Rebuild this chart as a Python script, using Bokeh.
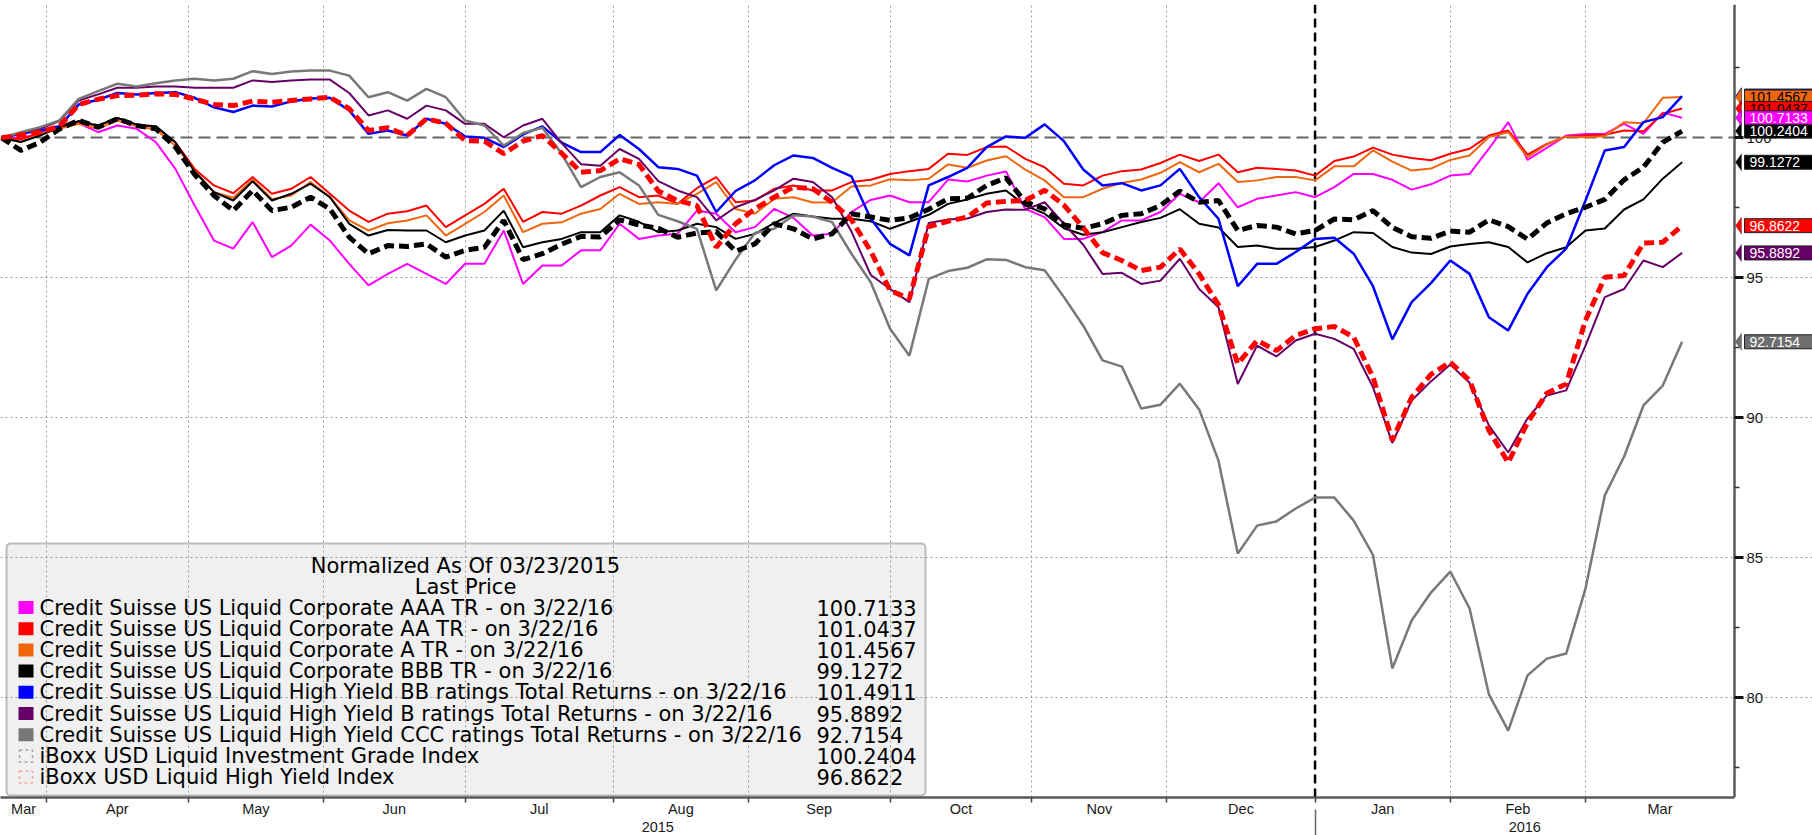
import numpy as np
import pandas as pd
from bokeh.plotting import figure
from bokeh.models import (Range1d, LinearAxis, FixedTicker, Span, Label, Grid,
                          BoxAnnotation, PolyAnnotation)
from bokeh.embed import file_html
from bokeh.resources import INLINE

# ---------------- data ----------------
START = "2015-03-23"          # normalisation date (=100)
END = "2016-03-22"            # last price date
STEP = 3                      # one reading every 3rd trading day

series_names = [
    "Credit Suisse US Liquid Corporate AAA TR -  on 3/22/16",
    "Credit Suisse US Liquid Corporate AA TR -  on 3/22/16",
    "Credit Suisse US Liquid Corporate A TR -  on 3/22/16",
    "Credit Suisse US Liquid Corporate BBB TR -  on 3/22/16",
    "Credit Suisse US Liquid High Yield BB ratings Total Returns -  on 3/22/16",
    "Credit Suisse US Liquid High Yield B ratings Total Returns -  on 3/22/16",
    "Credit Suisse US Liquid High Yield CCC ratings Total Returns -  on 3/22/16",
    "iBoxx USD Liquid Investment Grade Index",
    "iBoxx USD Liquid High Yield Index",
]

cs_aaa = [100.0, 100.0, 100.14, 100.38, 100.52, 100.2, 100.44, 100.32, 99.84, 98.89,
          97.58, 96.33, 96.04, 96.99, 95.74, 96.15, 96.9, 96.33, 95.5, 94.73,
          95.14, 95.5, 95.14, 94.78, 95.5, 95.5, 96.69, 94.78, 95.44, 95.44,
          95.98, 95.98, 96.93, 96.39, 96.51, 96.57, 97.4, 97.29, 96.63, 96.81,
          97.46, 97.14, 96.51, 96.57, 97.35, 97.78, 97.94, 97.7, 97.7, 98.51,
          98.44, 98.65, 98.8, 97.46, 97.17, 96.39, 96.39, 96.63, 97.05, 97.05,
          97.35, 98.0, 97.7, 98.38, 97.52, 97.82, 97.94, 98.06, 97.88, 98.24,
          98.71, 98.71, 98.5, 98.15, 98.34, 98.65, 98.71, 99.61, 100.56, 99.21,
          99.64, 100.08, 100.14, 100.14, 100.5, 100.14, 100.9, 100.7133]
cs_aa = [100.0, 99.95, 100.17, 100.41, 100.56, 100.41, 100.71, 100.47, 100.38, 99.84,
         98.89, 98.30, 98.02, 98.6, 98.0, 98.18, 98.6, 98.0, 97.4, 97.0,
         97.29, 97.38, 97.58, 96.81, 97.23, 97.64, 98.18, 97.0, 97.35, 97.29,
         97.58, 97.94, 98.24, 97.88, 97.94, 97.64, 98.2, 98.6, 97.7, 97.76,
         98.18, 98.3, 98.12, 98.12, 98.42, 98.5, 98.71, 98.81, 98.89, 99.43,
         99.39, 99.67, 99.69, 99.25, 98.95, 98.36, 98.3, 98.65, 98.81, 98.87,
         99.1, 99.4, 99.17, 99.4, 98.77, 98.93, 98.89, 98.83, 98.65, 99.17,
         99.33, 99.65, 99.4, 99.28, 99.2, 99.43, 99.61, 100.08, 100.26, 99.4,
         99.78, 100.05, 100.08, 100.11, 100.26, 100.23, 100.86, 101.0437]
cs_a = [100.0, 99.85, 100.14, 100.32, 100.5, 100.32, 100.62, 100.41, 100.29, 99.72,
        98.83, 98.06, 97.86, 98.5, 97.81, 97.94, 98.42, 97.88, 97.05, 96.69,
        96.95, 97.05, 97.23, 96.51, 96.93, 97.35, 97.94, 96.63, 96.93, 96.98,
        97.29, 97.46, 98.0, 97.64, 97.7, 97.64, 98.0, 98.42, 97.46, 97.29,
        97.82, 97.88, 97.69, 97.7, 98.26, 98.3, 98.52, 98.48, 98.54, 99.05,
        98.93, 99.19, 99.34, 98.86, 98.48, 97.88, 97.88, 98.18, 98.39, 98.51,
        98.75, 99.13, 98.77, 99.07, 98.42, 98.48, 98.6, 98.6, 98.48, 98.98,
        98.98, 99.55, 99.15, 98.83, 98.9, 99.21, 99.37, 100.03, 100.2, 99.31,
        99.76, 100.05, 100.02, 100.06, 100.56, 100.52, 101.43, 101.4567]
cs_bbb = [100.0, 99.85, 100.08, 100.38, 100.6, 100.44, 100.71, 100.47, 100.41, 99.84,
          98.79, 98.06, 97.76, 98.45, 97.76, 98.0, 98.36, 97.88, 96.93, 96.51,
          96.71, 96.69, 96.69, 96.27, 96.51, 96.69, 97.4, 96.09, 96.27, 96.39,
          96.63, 96.63, 97.23, 97.0, 96.63, 96.69, 96.93, 96.81, 96.39, 96.57,
          96.95, 97.29, 97.19, 97.11, 97.11, 97.02, 96.75, 97.0, 97.25, 97.64,
          97.8, 98.0, 98.12, 97.58, 97.29, 96.77, 96.54, 96.63, 96.81, 96.99,
          97.14, 97.45, 96.93, 96.8, 96.1, 96.15, 96.04, 96.04, 96.1, 96.33,
          96.63, 96.6, 96.1, 95.9, 95.85, 96.12, 96.21, 96.27, 96.1, 95.55,
          95.88, 96.09, 96.69, 96.76, 97.44, 97.8, 98.54, 99.1272]
cs_hy_bb = [100.0, 100.14, 100.26, 100.41, 101.19, 101.36, 101.6, 101.55, 101.6, 101.63,
            101.43, 101.09, 100.92, 101.15, 101.12, 101.3, 101.4, 101.43, 100.98, 100.14,
            100.26, 100.08, 100.68, 100.5, 100.05, 100.0, 99.67, 100.12, 100.41, 99.83,
            99.49, 99.49, 100.1, 99.6, 98.95, 98.89, 98.65, 97.35, 98.1, 98.48,
            99.02, 99.37, 99.28, 98.93, 98.62, 97.11, 96.21, 95.8, 98.3, 98.6,
            98.93, 99.67, 100.05, 100.0, 100.48, 99.88, 98.87, 98.3, 98.38, 98.12,
            98.3, 98.89, 97.88, 97.11, 94.7, 95.5, 95.5, 95.92, 96.39, 96.43,
            95.86, 94.7, 92.8, 94.13, 94.81, 95.62, 95.14, 93.59, 93.12, 94.43,
            95.38, 96.04, 97.76, 99.55, 99.67, 100.56, 100.74, 101.4911]
cs_hy_b = [100.0, 100.17, 100.32, 100.6, 101.33, 101.55, 101.79, 101.79, 101.83, 101.83,
           101.79, 101.79, 101.79, 102.05, 101.99, 102.05, 102.08, 102.08, 101.6, 100.8,
           100.98, 100.68, 101.15, 100.98, 100.5, 100.5, 100.02, 100.44, 100.68, 99.81,
           99.06, 99.0, 99.6, 99.25, 98.45, 98.12, 97.88, 97.05, 97.52, 97.78,
           98.12, 98.54, 98.42, 97.88, 96.65, 95.1, 94.6, 94.13, 96.96, 97.08,
           97.12, 97.35, 97.44, 97.43, 97.7, 96.93, 96.18, 95.14, 95.18, 94.78,
           94.9, 95.68, 94.6, 93.95, 91.21, 92.58, 92.19, 92.76, 93.0, 92.82,
           92.46, 91.09, 89.1, 90.62, 91.3, 91.9, 91.25, 89.73, 88.76, 89.98,
           90.8, 90.98, 92.58, 94.31, 94.6, 95.62, 95.38, 95.8892]
cs_hy_ccc = [100.0, 100.2, 100.38, 100.62, 101.39, 101.67, 101.93, 101.83, 101.95, 102.05,
             102.11, 102.05, 102.11, 102.38, 102.28, 102.37, 102.4, 102.4, 102.22, 101.45,
             101.63, 101.33, 101.75, 101.45, 100.62, 100.44, 99.72, 100.17, 100.36, 99.43,
             98.24, 98.6, 98.77, 98.3, 97.25, 97.02, 96.75, 94.55, 95.65, 96.6,
             96.75, 97.23, 97.19, 96.99, 95.86, 94.84, 93.18, 92.22, 94.96, 95.24,
             95.36, 95.66, 95.64, 95.38, 95.27, 94.31, 93.29, 92.05, 91.83, 90.33,
             90.47, 91.22, 90.3, 88.47, 85.15, 86.15, 86.3, 86.76, 87.15, 87.15,
             86.33, 85.1, 81.05, 82.76, 83.76, 84.51, 83.19, 80.12, 78.83, 80.8,
             81.4, 81.58, 83.9, 87.23, 88.62, 90.44, 91.15, 92.7154]
iboxx_ig = [100.0, 99.55, 99.84, 100.32, 100.62, 100.38, 100.68, 100.44, 100.32, 99.67,
            98.69, 97.94, 97.40, 98.12, 97.4, 97.52, 97.88, 97.46, 96.45, 95.86,
            96.15, 96.12, 96.21, 95.74, 95.98, 96.09, 97.05, 95.65, 95.86, 96.2,
            96.48, 96.46, 97.07, 96.89, 96.77, 96.45, 96.6, 96.65, 95.95, 96.21,
            96.93, 96.75, 96.39, 96.57, 97.29, 97.17, 97.05, 97.14, 97.45, 97.82,
            97.84, 98.3, 98.57, 97.7, 97.46, 96.89, 96.77, 96.93, 97.23, 97.29,
            97.58, 98.1, 97.7, 97.76, 96.69, 96.87, 96.81, 96.57, 96.69, 97.1,
            97.07, 97.4, 96.8, 96.47, 96.41, 96.67, 96.63, 97.07, 96.83, 96.38,
            96.96, 97.29, 97.52, 97.8, 98.5, 98.95, 99.84, 100.2404]
iboxx_hy = [100.0, 100.1, 100.2, 100.41, 101.19, 101.38, 101.51, 101.52, 101.57, 101.55,
            101.38, 101.19, 101.15, 101.31, 101.27, 101.33, 101.39, 101.45, 101.04, 100.26,
            100.36, 100.08, 100.68, 100.52, 99.9, 99.88, 99.43, 99.88, 100.08, 99.45,
            98.77, 98.83, 99.25, 99.05, 98.1, 97.76, 97.58, 96.09, 96.93, 97.46,
            97.88, 98.24, 98.18, 97.7, 97.07, 95.95, 94.55, 94.25, 96.83, 97.02,
            97.17, 97.67, 97.73, 97.76, 98.13, 97.6, 96.79, 95.9, 95.62, 95.26,
            95.38, 96.03, 95.14, 94.04, 91.93, 92.76, 92.4, 92.94, 93.18, 93.26,
            92.88, 91.45, 89.2, 90.73, 91.55, 91.99, 91.33, 89.55, 88.4, 89.83,
            90.88, 91.21, 93.48, 95.02, 95.08, 96.24, 96.27, 96.8622]

month_labels = ["Mar", "Apr", "May", "Jun", "Jul", "Aug", "Sep", "Oct", "Nov",
                "Dec", "Jan", "Feb", "Mar"]
year_labels = ["2015", "2016"]
y_major = [80, 85, 90, 95, 100]
y_minor = [77.5, 82.5, 87.5, 92.5, 97.5, 102.5]
y_grid = [80, 85, 90, 95]
base_level = [100]
legend_title = ["Normalized As Of 03/23/2015", "Last Price"]

# ---------------- styles / geometry ----------------
all_series = [cs_aaa, cs_aa, cs_a, cs_bbb, cs_hy_bb, cs_hy_b, cs_hy_ccc, iboxx_ig, iboxx_hy]
line_colors = ["#FF00FF", "#FF0000", "#F0660F", "#000000", "#0000FF", "#660066",
               "#787878", "#000000", "#FF0000"]
line_widths = [2, 2, 2, 2, 2.5, 2, 2.5, 5, 5]
line_dashes = ["solid"] * 7 + ["10 5", "10 5"]
tag_colors = ["#FF00FF", "#FF0000", "#F0660F", "#000000", "#0000FF", "#660066",
              "#6E6E6E", "#000000", "#FF0000"]
tag_text_colors = ["white", "black", "black", "white", "white", "white", "white",
                   "white", "white"]

W, H = 1812, 835
TOP, BOTTOM = 4, 38            # frame top / bottom border (px)
AXIS_PX = 1734                 # where the value axis sits inside the frame
PX_PER_DAY = 6.439
X0 = -1.0 / PX_PER_DAY
X1 = X0 + W / PX_PER_DAY
X_AXIS = X0 + AXIS_PX / PX_PER_DAY
PX_PER_UNIT = 28.0
Y1 = 104.904 - TOP / PX_PER_UNIT
Y0 = 104.904 - (H - BOTTOM) / PX_PER_UNIT

# ---------------- x positions (trading-day index) ----------------
start = np.datetime64(START)
dates = pd.bdate_range(START, END)[::STEP]
x = np.busday_count(start, dates.values.astype("datetime64[D]")).astype(float)

mstarts = pd.date_range("2015-04-01", "2016-03-01", freq="MS")
bounds = np.busday_count(start, mstarts.values.astype("datetime64[D]")).astype(float)
year_break = float(np.busday_count(start, np.datetime64("2016-01-01")))
edges = [X0] + list(bounds) + [X_AXIS]
month_centers = [round((a + b) / 2, 3) for a, b in zip(edges[:-1], edges[1:])]
year_centers = [round((X0 + year_break) / 2, 3), round((year_break + X_AXIS) / 2, 3)]

p = figure(width=W, height=H, x_range=Range1d(X0, X1), y_range=Range1d(Y0, Y1),
           output_backend="svg", toolbar_location=None,
           x_axis_location="below", y_axis_location=None,
           min_border_left=0, min_border_top=TOP,
           min_border_right=0, min_border_bottom=BOTTOM)
p.outline_line_color = None
p.background_fill_color = "white"
p.border_fill_color = "white"

AX_FONT = "Liberation Sans"
AX_SIZE = "14.5px"

xa = p.xaxis[0]
xa.ticker = FixedTicker(ticks=month_centers, minor_ticks=list(bounds))
xa.major_label_overrides = {c: t for c, t in zip(month_centers, month_labels)}
xa.bounds = (X0, X_AXIS)
xa.major_tick_out = 0
xa.major_tick_in = 0
xa.minor_tick_out = 5
xa.minor_tick_in = 0
xa.minor_tick_line_color = "#444444"
xa.minor_tick_line_width = 1.5
xa.axis_line_color = "#5a5a5a"
xa.axis_line_width = 2.5
xa.major_label_text_font = AX_FONT
xa.major_label_text_font_size = AX_SIZE
xa.major_label_text_color = "#1a1a1a"
xa.major_label_standoff = -2

yr = LinearAxis(ticker=FixedTicker(ticks=year_centers, minor_ticks=[year_break]))
yr.major_label_overrides = {c: t for c, t in zip(year_centers, year_labels)}
yr.axis_line_color = None
yr.major_tick_line_color = None
yr.minor_tick_out = 16
yr.minor_tick_in = 10
yr.minor_tick_line_color = "#666666"
yr.minor_tick_line_width = 1.5
yr.major_label_standoff = -14
yr.major_label_text_font = AX_FONT
yr.major_label_text_font_size = AX_SIZE
yr.major_label_text_color = "#1a1a1a"
p.add_layout(yr, "below")

# value axis drawn at a fixed place inside the frame, labels to its right
ya = LinearAxis(ticker=FixedTicker(ticks=y_major, minor_ticks=y_minor),
                fixed_location=X_AXIS)
ya.major_tick_out = 9
ya.major_tick_in = 0
ya.major_tick_line_width = 3
ya.major_tick_line_color = "#111111"
ya.minor_tick_out = 5
ya.minor_tick_in = 0
ya.minor_tick_line_width = 1.5
ya.minor_tick_line_color = "#333333"
ya.axis_line_color = "#5a5a5a"
ya.axis_line_width = 2.5
ya.major_label_text_font = AX_FONT
ya.major_label_text_font_size = "15px"
ya.major_label_text_color = "#1a1a1a"
ya.major_label_standoff = 3
p.add_layout(ya, "right")

p.xgrid.ticker = FixedTicker(ticks=[b for b in bounds if b != year_break])
p.ygrid.ticker = FixedTicker(ticks=y_grid)
p.ygrid.bounds = (X0, X_AXIS)
for g in (p.xgrid, p.ygrid):
    g.grid_line_color = "#9a9a9a"
    g.grid_line_dash = "2 3"
    g.grid_line_width = 1

p.add_layout(Grid(dimension=1, ticker=FixedTicker(ticks=base_level),
                  bounds=(X0, X_AXIS), grid_line_color="#666666",
                  grid_line_dash="12 6", grid_line_width=2))
p.add_layout(Span(location=year_break, dimension="height", line_color="#000000",
                  line_dash="9 5", line_width=2.5, level="underlay"))

for vals, col, lw, dash in zip(all_series, line_colors, line_widths, line_dashes):
    p.line(x, vals, line_color=col, line_width=lw, line_dash=dash)

# ---------------- legend (screen units inside the frame) ----------------
LEG_FONT = "DejaVu Sans"
LEG_SIZE = "21px"
p.add_layout(BoxAnnotation(left=6, right=925, bottom=2, top=254,
                           left_units="screen", right_units="screen",
                           bottom_units="screen", top_units="screen",
                           fill_color="#F0F0F0", fill_alpha=1.0,
                           line_color="#333333", line_width=2, border_radius=4,
                           level="image"))
for i, t in enumerate(legend_title):
    p.add_layout(Label(x=465, y=232 - 21 * i, x_units="screen", y_units="screen",
                       text=t, text_font=LEG_FONT, text_font_size=LEG_SIZE,
                       text_color="#000000", text_align="center",
                       text_baseline="middle"))
for i, (name, vals) in enumerate(zip(series_names, all_series)):
    ry = 190 - 21.2 * i
    if line_dashes[i] == "solid":
        p.add_layout(BoxAnnotation(left=18, right=33, bottom=ry - 6.5, top=ry + 6.5,
                                   left_units="screen", right_units="screen",
                                   bottom_units="screen", top_units="screen",
                                   fill_color=line_colors[i], fill_alpha=1.0,
                                   line_color=None))
    else:
        p.add_layout(BoxAnnotation(left=19, right=32, bottom=ry - 6, top=ry + 6,
                                   left_units="screen", right_units="screen",
                                   bottom_units="screen", top_units="screen",
                                   fill_alpha=0.0, line_color=line_colors[i],
                                   line_width=1.5, line_dash="3 3"))
    p.add_layout(Label(x=39, y=ry, x_units="screen", y_units="screen", text=name,
                       text_font=LEG_FONT, text_font_size=LEG_SIZE,
                       text_color="#000000", text_baseline="middle"))
    p.add_layout(Label(x=816, y=ry, x_units="screen", y_units="screen",
                       text=f"{vals[-1]:.4f}", text_font=LEG_FONT,
                       text_font_size=LEG_SIZE, text_color="#000000",
                       text_baseline="middle"))

# ---------------- last-value tags beside the value axis ----------------
HALF = 8.5 / PX_PER_UNIT
for i in reversed(range(len(all_series))):
    v = all_series[i][-1]
    p.add_layout(PolyAnnotation(xs=[AXIS_PX + 7, AXIS_PX + 1, AXIS_PX + 7],
                                ys=[v + HALF, v, v - HALF],
                                xs_units="screen", ys_units="data",
                                fill_color=tag_colors[i], fill_alpha=1.0,
                                line_color="#222222", line_width=1))
    p.add_layout(Label(x=AXIS_PX + 10, y=v, x_units="screen", y_units="data",
                       text=f"{v:.4f}", text_font=AX_FONT, text_font_size="14px",
                       text_color=tag_text_colors[i], text_baseline="middle",
                       background_fill_color=tag_colors[i], background_fill_alpha=1.0,
                       border_line_color="#222222", border_line_width=1,
                       padding=dict(left=5, right=30, top=2, bottom=2)))

open("out.html", "w").write(file_html(p, INLINE))
